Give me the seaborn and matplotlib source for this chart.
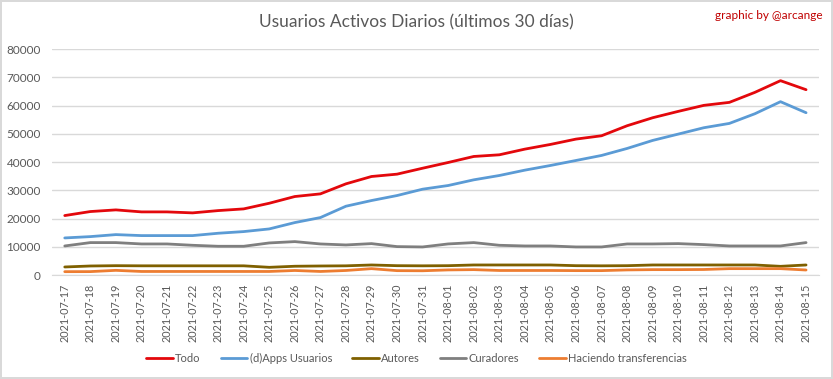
import pandas as pd
import matplotlib.pyplot as plt
import seaborn as sns

# Datos
fechas = ["2021-07-17", "2021-07-18", "2021-07-19", "2021-07-20", "2021-07-21", "2021-07-22",
          "2021-07-23", "2021-07-24", "2021-07-25", "2021-07-26", "2021-07-27", "2021-07-28",
          "2021-07-29", "2021-07-30", "2021-07-31", "2021-08-01", "2021-08-02", "2021-08-03",
          "2021-08-04", "2021-08-05", "2021-08-06", "2021-08-07", "2021-08-08", "2021-08-09",
          "2021-08-10", "2021-08-11", "2021-08-12", "2021-08-13", "2021-08-14", "2021-08-15"]

todo = [21040, 22460, 23050, 22340, 22340, 21990, 22800, 23400, 25400, 27780,
        28720, 32270, 34870, 35700, 37800, 39830, 41960, 42550, 44560, 46220,
        48110, 49290, 52840, 55670, 57920, 60050, 61110, 64660, 68790, 65600]
dapps = [13120, 13590, 14300, 13950, 13950, 13950, 14780, 15370, 16310, 18560,
         20330, 24350, 26360, 28130, 30380, 31680, 33690, 35220, 37120, 38770,
         40540, 42320, 44800, 47640, 49880, 52130, 53660, 57090, 61350, 57450]
autores = [2840, 3190, 3300, 3250, 3250, 3250, 3250, 3250, 2720, 3100,
           3190, 3250, 3550, 3300, 3250, 3300, 3550, 3550, 3550, 3550,
           3300, 3250, 3300, 3550, 3550, 3550, 3550, 3550, 3070, 3550]
curadores = [10280, 11470, 11470, 10990, 10990, 10520, 10170, 10170, 11350, 11820,
             10990, 10640, 11110, 10050, 9930, 11000, 11470, 10520, 10280, 10280,
             9930, 9930, 10990, 10990, 11110, 10760, 10280, 10280, 10280, 11470]
transferencias = [1180, 1200, 1650, 1250, 1250, 1250, 1250, 1250, 1250, 1600,
                  1250, 1600, 2250, 1540, 1500, 1800, 1900, 1600, 1600, 1600,
                  1550, 1550, 1800, 1900, 1900, 1950, 2250, 2250, 2250, 1770]

series = {
    "Todo": todo,
    "(d)Apps Usuarios": dapps,
    "Autores": autores,
    "Curadores": curadores,
    "Haciendo transferencias": transferencias,
}
colores = ["#E3080C", "#5B9BD5", "#7F6000", "#7F7F7F", "#ED7D31"]

df = pd.concat([pd.DataFrame({"Fecha": fechas, "Usuarios": v, "Serie": k}) for k, v in series.items()])

sns.set_style("white")
plt.rcParams["font.family"] = ["Lato", "DejaVu Sans"]

fig = plt.figure(figsize=(8.33, 3.79), dpi=100)
fig.patch.set_edgecolor("#D9D9D9")
fig.patch.set_linewidth(1.5)
ax = fig.add_axes([0.0624, 0.2744, 0.9206, 0.5963])

sns.lineplot(data=df, x="Fecha", y="Usuarios", hue="Serie", palette=colores, linewidth=2, ax=ax)

ax.set_xlim(-0.5, len(fechas) - 0.5)
ax.set_ylim(0, 80000)
ax.set_yticks(range(0, 80001, 10000))
ax.grid(axis="y", color="#D9D9D9", linewidth=1)
ax.set_axisbelow(True)
for s in ["top", "right", "left"]:
    ax.spines[s].set_visible(False)
ax.spines["bottom"].set_color("#D9D9D9")
ax.set_xlabel("")
ax.set_ylabel("")
ax.tick_params(axis="x", rotation=90, labelsize=7.8, colors="#595959", length=0, pad=6)
ax.tick_params(axis="y", labelsize=8.5, colors="#595959", length=0, pad=8)

fig.text(0.5, 0.942, "Usuarios Activos Diarios (últimos 30 días)", ha="center", va="center",
         fontsize=12.5, color="#595959")
fig.text(0.987, 0.96, "graphic by @arcange", ha="right", va="center", fontsize=8.5, color="#C00000")

ax.legend_.remove()
handles, labels = ax.get_legend_handles_labels()
fig.legend(handles, labels, loc="center", bbox_to_anchor=(0.5, 0.055), ncol=5, frameon=False,
           fontsize=8, handlelength=2.4, handletextpad=0.2, columnspacing=1.8, labelcolor="#595959")

fig.savefig("out.png", dpi=100)
